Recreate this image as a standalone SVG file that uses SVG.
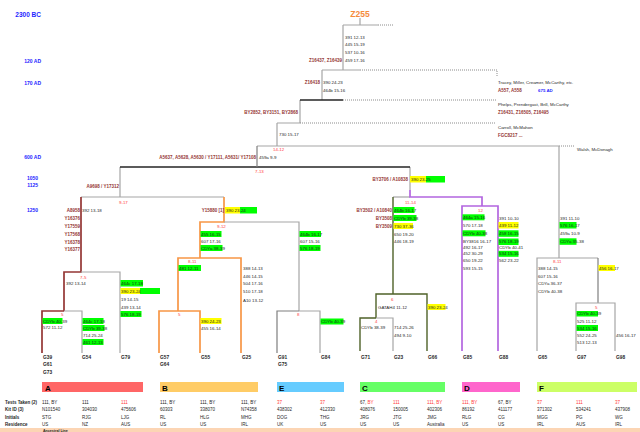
<svg xmlns="http://www.w3.org/2000/svg" width="640" height="432" viewBox="0 0 640 432">
<style>
text{font-family:"Liberation Sans",Arial,sans-serif;font-size:4.4px;fill:#1f1f1f}
.r{fill:#953735;font-weight:bold;font-size:4.5px}
.e{text-anchor:end}
.n{fill:#ff3b3b}
.tl{fill:#1f1fff;font-weight:bold;font-size:5px;text-anchor:end}
.lf{font-weight:bold;font-size:4.8px}
.cl{font-weight:bold;font-size:8px;fill:#000}
.th{font-weight:bold;font-size:4.5px}
.tv{font-size:4.5px}
.hg{fill:#00ff00}
.hy{fill:#ffff00}
.c{fill:none;stroke:#a6a6a6;stroke-width:1.2}
.k{fill:none;stroke:#262626;stroke-width:1.4}
.dk{fill:none;stroke:#7f7f7f;stroke-width:1.2}
.d{fill:none;stroke:#7f7f7f;stroke-width:0.9;stroke-dasharray:1 1}
.ca{fill:none;stroke:#943634;stroke-width:1.7}
.cb{fill:none;stroke:#f79646;stroke-width:1.7}
.cc{fill:none;stroke:#4f6228;stroke-width:1.4}
.cd{fill:none;stroke:#b366e0;stroke-width:1.7}
</style>
<rect width="640" height="432" fill="#ffffff"/>

<g id="timeline">
<text x="41" y="16.5" class="tl" style="font-size:6.5px">2300 BC</text>
<text x="41" y="62.5" class="tl">120 AD</text>
<text x="41" y="84.5" class="tl">170 AD</text>
<text x="41" y="158.5" class="tl">600 AD</text>
<text x="38" y="179.5" class="tl">1050</text>
<text x="38" y="187" class="tl">1125</text>
<text x="38" y="211.5" class="tl">1250</text>
</g>

<g id="connectors">
<path class="c" d="M360 18V25M343 25H378M343 25V70M322 70H360M322 70V100M300 100V123M277 123H300M277 123V146M257 146H559M120 167V197M81 197H224M410 167V190"/>
<path class="d" d="M378 25H393M360 70H497V77M343 100H497M300 123H495M559 146H575"/>
<path class="k" d="M300 100H343M120 167H410"/>
<path class="dk" d="M257 146V167"/>
<path class="ca" d="M81 197V272H64V311M42 353V311H64"/>
<path class="c" d="M81 272H120V353M64 311H82V353"/>
<path class="cb" d="M224 197V222H200V258M178 311V258H241V353M159 353V311H200V353"/>
<path class="c" d="M224 222H299V311"/>
<path class="dk" d="M277 353V311H299"/>
<path class="c" d="M299 311H320V353"/>
<path class="c" d="M393 197H410"/>
<path class="cc" d="M393 197V294M376 318V294H427V351M360 351V318H376"/>
<path class="c" d="M376 318H393V351"/>
<path class="cd" d="M410 190V197H482V206M462 351V206H498V351"/>
<path class="c" d="M559 146V258M537 351V258H598"/>
<path class="dk" d="M598 258V303"/>
<path class="c" d="M576 351V303H615V351"/>
</g>

<g id="node-z255">
<text x="360" y="16.5" text-anchor="middle" style="font-size:8.5px;font-weight:bold;fill:#f58b3c">Z255</text>
</g>
<g id="node-z16437">
<text x="345" y="38.5">391 12-13</text>
<text x="345" y="46">445 15-19</text>
<text x="345" y="53.5">537 10-16</text>
<text x="345" y="61.5">459 17-16</text>
<text x="342" y="61.5" class="r e">Z16437, Z16439</text>
</g>
<g id="node-z16418">
<text x="320" y="83.5" class="r e">Z16418</text>
<text x="323" y="83.5">390 24-23</text>
<text x="323" y="91.5">464b 15-16</text>
</g>
<g id="node-by2852">
<text x="298" y="113.5" class="r e">BY2852, BY3151, BY2868</text>
</g>
<g id="node-730">
<text x="279" y="135.5">730 15-17</text>
</g>
<g id="side-lines">
<text x="498" y="83.5">Tracey, Miller, Creamer, McCarthy, etc.</text>
<text x="498" y="91.5" class="r">A557, A558</text>
<text x="538" y="91.5" style="fill:#1f1fff;font-weight:bold">675 AD</text>
<text x="498" y="105.5">Phelps, Prendergast, Brill, McCarthy</text>
<text x="498" y="113.5" class="r">Z16431, Z16505, Z16495</text>
<text x="498" y="128.5">Carroll, McMahon</text>
<text x="498" y="136.5" class="r">FGC8217 ...</text>
<text x="577" y="151">Walsh, McDonagh</text>
</g>
<g id="node-a5637">
<text x="273" y="150.5" class="n">14-12</text>
<text x="256" y="158.5" class="r e">A5637, A5628, A5630 / Y17111, A5631/ Y17108</text>
<text x="259" y="158.5">459a 9-9</text>
<text x="255" y="173" class="n">7-13</text>
</g>
<g id="node-a9698">
<text x="119" y="187.5" class="r e">A9698 / Y17312</text>
<text x="119" y="203.5" class="n">9-17</text>
</g>
<g id="node-a8958">
<text x="80" y="211.5" class="r e">A8958</text>
<text x="82" y="211.5">392 13-18</text>
<text x="80" y="219.5" class="r e">Y16376</text>
<text x="80" y="227.5" class="r e">Y17559</text>
<text x="80" y="235.5" class="r e">Y17568</text>
<text x="80" y="243.5" class="r e">Y16378</text>
<text x="80" y="250.5" class="r e">Y16377</text>
</g>
<g id="node-7-5">
<text x="80" y="278.5" class="n">7-5</text>
<text x="66" y="284.5">392 13-14</text>
</g>
<g id="node-a5">
<text x="61" y="316" class="n">5</text>
</g>
<g id="leaf-g39">
<rect x="42.5" y="318" width="20" height="6" class="hg"/>
<text x="43" y="322.5">CDYb 40-39</text>
<text x="43" y="329">572 11-12</text>
<text x="43" y="358.5" class="lf">G39</text>
<text x="43" y="366" class="lf">G61</text>
<text x="43" y="373.5" class="lf">G73</text>
</g>
<g id="leaf-g54">
<rect x="82.5" y="318" width="21" height="6" class="hg"/>
<text x="83" y="322.5">464c 17-18</text>
<rect x="82.5" y="325" width="22" height="6" class="hg"/>
<text x="83" y="329.5">CDYb 39-38</text>
<text x="83" y="336.5">714 25-24</text>
<rect x="82.5" y="339" width="21" height="6" class="hg"/>
<text x="83" y="343.5">461 12-13</text>
<text x="82" y="358.5" class="lf">G54</text>
</g>
<g id="leaf-g79">
<rect x="120.5" y="280" width="22.5" height="6.5" class="hg"/>
<text x="121" y="284.5">464c 17-18</text>
<rect x="120.5" y="288" width="19.5" height="6" class="hy"/>
<rect x="140" y="288" width="20" height="6" class="hg"/>
<text x="121" y="292.5">390 23-24</text>
<text x="121" y="300.5">19 14-15</text>
<text x="121" y="308.5">439 13-14</text>
<rect x="120.5" y="311" width="21" height="6" class="hg"/>
<text x="121" y="315.5">576 18-19</text>
<text x="121" y="358.5" class="lf">G79</text>
</g>

<g id="node-y15880">
<text x="224" y="211.5" class="r e">Y15880 [1]</text>
<rect x="225" y="207" width="15" height="6.5" class="hy"/>
<rect x="240" y="207" width="17" height="6.5" class="hg"/>
<text x="226" y="211.5">390 23-24</text>
</g>
<g id="node-b9-12">
<text x="217" y="227.5" class="n">9-12</text>
<rect x="200.5" y="231" width="21" height="6" class="hg"/>
<text x="201" y="235.5">455 16-15</text>
<text x="201" y="242.5">607 17-16</text>
<rect x="200.5" y="245" width="22" height="6" class="hg"/>
<text x="201" y="249.5">CDYa 38-39</text>
</g>
<g id="node-b8-11">
<text x="188" y="263" class="n">8-11</text>
<rect x="178.5" y="265" width="22.5" height="6" class="hg"/>
<text x="179" y="269.5">481 12-11</text>
</g>
<g id="node-b5">
<text x="178" y="316" class="n">5</text>
</g>
<g id="leaf-g57">
<text x="160" y="358.5" class="lf">G57</text>
<text x="160" y="366" class="lf">G64</text>
</g>
<g id="leaf-g55">
<rect x="200.5" y="318" width="21" height="6" class="hy"/>
<text x="201" y="322.5">390 24-23</text>
<text x="201" y="329.5">455 16-14</text>
<text x="201" y="358.5" class="lf">G55</text>
</g>
<g id="leaf-g25">
<text x="243" y="269.5">388 14-13</text>
<text x="243" y="277.5">446 14-15</text>
<text x="243" y="284.5">504 17-16</text>
<text x="243" y="292.5">510 17-18</text>
<text x="243" y="301.5">A10 13-12</text>
<text x="242" y="358.5" class="lf">G25</text>
</g>

<g id="node-e">
<rect x="299.5" y="231" width="21.5" height="6" class="hg"/>
<text x="300" y="235.5">464b 16-17</text>
<text x="300" y="242.5">607 15-16</text>
<rect x="299.5" y="245" width="21" height="6" class="hg"/>
<text x="300" y="249.5">576 18-19</text>
<text x="297" y="316" class="n">8</text>
</g>
<g id="leaf-g91">
<text x="278" y="358.5" class="lf">G91</text>
<text x="278" y="366" class="lf">G75</text>
</g>
<g id="leaf-g84">
<rect x="320.5" y="318.5" width="23" height="6" class="hg"/>
<text x="321" y="323">CDYb 40-39</text>
<text x="321" y="358.5" class="lf">G84</text>
</g>

<g id="node-by3706">
<text x="408" y="180.5" class="r e">BY3706 / A10838</text>
<rect x="410" y="176" width="16" height="6.5" class="hy"/>
<rect x="426" y="176" width="19" height="6.5" class="hg"/>
<text x="411" y="180.5">390 23-25</text>
</g>
<g id="node-by3502">
<text x="405" y="203.5" class="n">11-14</text>
<text x="392" y="211.5" class="r e">BY3502 / A10840</text>
<rect x="393.5" y="207" width="21" height="6" class="hg"/>
<text x="394" y="211.5">464b 16-17</text>
<text x="392" y="219.5" class="r e">BY3508</text>
<rect x="393.5" y="215" width="23" height="6" class="hg"/>
<text x="394" y="219.5">CDYb 39-38</text>
<text x="392" y="227.5" class="r e">BY3509</text>
<rect x="393.5" y="223" width="19.5" height="6" class="hy"/>
<text x="394" y="227.5">730 37-36</text>
<text x="394" y="235.5">650 19-20</text>
<text x="394" y="243">446 18-19</text>
</g>
<g id="node-c6">
<text x="391" y="300.5" class="n">6</text>
<text x="378" y="308.5">GATAH4 11-12</text>
</g>
<g id="node-c4">
<text x="375" y="322.5" class="n">4</text>
</g>
<g id="leaf-g71">
<text x="361" y="328.5">CDYb 38-39</text>
<text x="361" y="358.5" class="lf">G71</text>
</g>
<g id="leaf-g23">
<text x="394" y="328.5">714 25-26</text>
<text x="394" y="336.5">494 9-10</text>
<text x="394" y="358.5" class="lf">G23</text>
</g>
<g id="leaf-g66">
<rect x="427.5" y="304" width="18" height="6" class="hy"/>
<text x="428" y="308.5">390 23-24</text>
<text x="428" y="358.5" class="lf">G66</text>
</g>

<g id="node-d">
<text x="478" y="211.5" class="n">12</text>
</g>
<g id="leaf-g85">
<rect x="462.5" y="214.3" width="22" height="6" class="hg"/>
<text x="463" y="218.8">464a 15-16</text>
<text x="463" y="226.5">570 17-18</text>
<rect x="462.5" y="230.3" width="23" height="6" class="hg"/>
<text x="463" y="234.8">CDYb 40-38</text>
<text x="463" y="243.2">BY3816 16-17</text>
<text x="463" y="248.8">492 16-17</text>
<text x="463" y="255.2">452 30-29</text>
<text x="463" y="262.2">650 19-22</text>
<text x="463" y="269.8">593 15-15</text>
<text x="463" y="358.5" class="lf">G85</text>
</g>
<g id="leaf-g88">
<text x="499" y="219.5">391 10-10</text>
<rect x="498.5" y="222" width="20" height="6.5" class="hy"/>
<text x="499" y="226.8">439 11-12</text>
<rect x="498.5" y="230.3" width="20" height="6.5" class="hg"/>
<text x="499" y="235.2">458 16-15</text>
<rect x="498.5" y="238.5" width="20" height="6.5" class="hg"/>
<text x="499" y="243.2">576 18-19</text>
<text x="499" y="248.8">CDYb 40-41</text>
<rect x="498.5" y="250.8" width="20" height="6" class="hg"/>
<text x="499" y="255.2">534 15-16</text>
<text x="499" y="262.2">562 23-22</text>
<text x="499" y="358.5" class="lf">G88</text>
</g>

<g id="node-f">
<text x="560" y="219.5">391 11-10</text>
<rect x="559.5" y="222" width="17" height="6.5" class="hg"/>
<text x="560" y="226.8">576 16-17</text>
<text x="560" y="234.8">459a 10-9</text>
<rect x="559.5" y="238.3" width="17" height="6.5" class="hg"/>
<text x="560" y="243">CDYa 35-38</text>
<text x="553" y="262.5" class="n">8-11</text>
</g>
<g id="leaf-g65">
<text x="538" y="269.5">388 14-15</text>
<text x="538" y="277.5">607 15-16</text>
<text x="538" y="285">CDYa 36-37</text>
<text x="538" y="292.5">CDYb 40-38</text>
<text x="538" y="358.5" class="lf">G65</text>
</g>
<g id="node-f5">
<rect x="598.5" y="265" width="16.5" height="6" class="hy"/>
<text x="599" y="269.5">456 16-17</text>
<text x="595" y="308.5" class="n">5</text>
</g>
<g id="leaf-g97">
<rect x="576.5" y="311" width="21.5" height="5.5" class="hg"/>
<text x="577" y="315.3">CDYb 40-39</text>
<text x="577" y="322.5">525 11-12</text>
<rect x="576.5" y="325" width="21.5" height="6" class="hg"/>
<text x="577" y="329.5">534 15-16</text>
<text x="577" y="336.8">552 24-25</text>
<text x="577" y="344">513 12-13</text>
<text x="577" y="358.5" class="lf">G97</text>
</g>
<g id="leaf-g98">
<text x="616" y="336.8">456 16-17</text>
<text x="616" y="358.5" class="lf">G98</text>
</g>

<g id="clades">
<rect x="42" y="382" width="101" height="10" fill="#ff6666"/>
<text x="45" y="390.5" class="cl">A</text>
<rect x="160" y="382" width="98" height="10" fill="#ffcc66"/>
<text x="162" y="390.5" class="cl">B</text>
<rect x="277" y="382" width="67" height="10" fill="#66ccff"/>
<text x="279" y="390.5" class="cl">E</text>
<rect x="360" y="382" width="85" height="10" fill="#66ff66"/>
<text x="362" y="390.5" class="cl">C</text>
<rect x="462" y="382" width="58" height="10" fill="#ff66cc"/>
<text x="464" y="390.5" class="cl">D</text>
<rect x="537" y="382" width="100" height="10" fill="#ccff66"/>
<text x="539" y="390.5" class="cl">F</text>
</g>

<g id="table">
<text x="5" y="403.6" class="th">Tests Taken (2)</text>
<text x="5" y="411.2" class="th">Kit ID (3)</text>
<text x="5" y="418.6" class="th">Initials</text>
<text x="5" y="426.2" class="th">Residence</text>
<text x="42" y="403.6" class="tv">111, BY</text>
<text x="82" y="403.6" class="tv">111</text>
<text x="121" y="403.6" class="tv n">111</text>
<text x="160" y="403.6" class="tv">111, BY</text>
<text x="200" y="403.6" class="tv">111, BY</text>
<text x="241" y="403.6" class="tv">111, BY</text>
<text x="277" y="403.6" class="tv n">37</text>
<text x="320" y="403.6" class="tv n">37</text>
<text x="360" y="403.6" class="tv">67, <tspan class="n">BY</tspan></text>
<text x="393" y="403.6" class="tv n">111</text>
<text x="427" y="403.6" class="tv n">111, BY</text>
<text x="462" y="403.6" class="tv n">111, BY</text>
<text x="498" y="403.6" class="tv">67, BY</text>
<text x="537" y="403.6" class="tv n">37</text>
<text x="576" y="403.6" class="tv n">111</text>
<text x="615" y="403.6" class="tv n">37</text>

<text x="42" y="411.2" class="tv">N101540</text>
<text x="82" y="411.2" class="tv">304030</text>
<text x="121" y="411.2" class="tv">475606</text>
<text x="160" y="411.2" class="tv">60303</text>
<text x="200" y="411.2" class="tv">338070</text>
<text x="241" y="411.2" class="tv">N74358</text>
<text x="277" y="411.2" class="tv">438302</text>
<text x="320" y="411.2" class="tv">412330</text>
<text x="360" y="411.2" class="tv">408076</text>
<text x="393" y="411.2" class="tv">150005</text>
<text x="427" y="411.2" class="tv">402306</text>
<text x="462" y="411.2" class="tv">86192</text>
<text x="498" y="411.2" class="tv">411177</text>
<text x="537" y="411.2" class="tv">371302</text>
<text x="576" y="411.2" class="tv">534241</text>
<text x="615" y="411.2" class="tv">437908</text>

<text x="42" y="418.6" class="tv">STG</text>
<text x="82" y="418.6" class="tv">RJG</text>
<text x="121" y="418.6" class="tv">LJG</text>
<text x="160" y="418.6" class="tv">RL</text>
<text x="200" y="418.6" class="tv">HLG</text>
<text x="241" y="418.6" class="tv">MHG</text>
<text x="277" y="418.6" class="tv">DOG</text>
<text x="320" y="418.6" class="tv">THG</text>
<text x="360" y="418.6" class="tv">JRG</text>
<text x="393" y="418.6" class="tv">JTG</text>
<text x="427" y="418.6" class="tv">JMG</text>
<text x="462" y="418.6" class="tv">RLG</text>
<text x="498" y="418.6" class="tv">CG</text>
<text x="537" y="418.6" class="tv">MGG</text>
<text x="576" y="418.6" class="tv">PG</text>
<text x="615" y="418.6" class="tv">WG</text>

<text x="42" y="426.2" class="tv">US</text>
<text x="82" y="426.2" class="tv">NZ</text>
<text x="121" y="426.2" class="tv">AUS</text>
<text x="160" y="426.2" class="tv">US</text>
<text x="200" y="426.2" class="tv">US</text>
<text x="241" y="426.2" class="tv">IRL</text>
<text x="277" y="426.2" class="tv">UK</text>
<text x="320" y="426.2" class="tv">US</text>
<text x="360" y="426.2" class="tv">US</text>
<text x="393" y="426.2" class="tv">US</text>
<text x="427" y="426.2" class="tv">Australia</text>
<text x="462" y="426.2" class="tv">US</text>
<text x="498" y="426.2" class="tv">US</text>
<text x="537" y="426.2" class="tv">IRL</text>
<text x="576" y="426.2" class="tv">AUS</text>
<text x="615" y="426.2" class="tv">IRL</text>
<rect x="0" y="428" width="640" height="4" fill="#fcd5b4"/>
<text x="43" y="431.6" class="th" style="font-size:3.6px">Ancestral Line</text>
</g>
</svg>
